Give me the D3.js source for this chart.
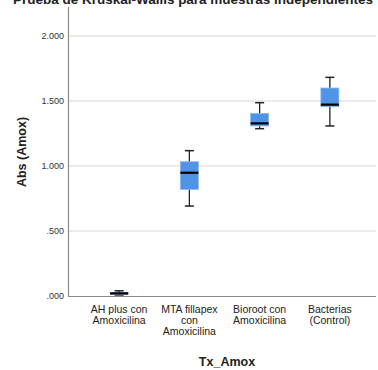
<!DOCTYPE html>
<html><head><meta charset="utf-8">
<script src="https://cdn.jsdelivr.net/npm/d3@7"></script>
<style>body{margin:0;background:#fff;}svg{display:block;}</style>
</head><body>
<svg id="c" width="378" height="370"></svg>
<script>
const categories = [["AH plus con","Amoxicilina"],["MTA fillapex","con","Amoxicilina"],["Bioroot con","Amoxicilina"],["Bacterias","(Control)"]];
const whiskerLow = [0.008, 0.692, 1.287, 1.308];
const q1 = [0.012, 0.820, 1.308, 1.456];
const median = [0.020, 0.948, 1.328, 1.472];
const q3 = [0.028, 1.033, 1.405, 1.600];
const whiskerHigh = [0.040, 1.118, 1.487, 1.682];
const yTicks = [0, 0.5, 1.0, 1.5, 2.0];
const yTickLabels = [".000", ".500", "1.000", "1.500", "2.000"];

const svg = d3.select("#c");
const pLeft = 68, pRight = 376, pTop = 7, pBottom = 296;
const y = d3.scaleLinear().domain([0, 2]).range([pBottom, 36]);
const x = d3.scaleBand().domain(d3.range(categories.length)).range([84, 365]);
const font = "Liberation Sans, Arial, sans-serif";

// gridlines
svg.append("g").selectAll("line").data(yTicks.slice(1)).join("line")
  .attr("x1", pLeft).attr("x2", pRight).attr("y1", d => y(d)).attr("y2", d => y(d))
  .attr("stroke", "#d9d9d9").attr("stroke-width", 1);

// y axis
const ya = svg.append("g").attr("transform", `translate(${pLeft},0)`)
  .call(d3.axisLeft(y).tickValues(yTicks).tickFormat((d,i) => yTickLabels[i]).tickSize(0).tickPadding(4));
ya.select(".domain").remove();
ya.selectAll("text").attr("font-family", font).attr("font-size", 9).attr("fill", "#333");

// x axis
const xa = svg.append("g").attr("transform", `translate(0,${pBottom})`)
  .call(d3.axisBottom(x).tickSize(0).tickFormat(""));
xa.select(".domain").remove();

svg.append("line").attr("x1", pLeft + 0.5).attr("x2", pLeft + 0.5).attr("y1", pTop).attr("y2", pBottom + 0.5)
  .attr("stroke", "#8c8c8c").attr("stroke-width", 1.2);
svg.append("line").attr("x1", pLeft).attr("x2", pRight).attr("y1", pBottom + 0.5).attr("y2", pBottom + 0.5)
  .attr("stroke", "#8c8c8c").attr("stroke-width", 1.2);

// category labels
categories.forEach((lines, i) => {
  const cx = x(i) + x.bandwidth() / 2;
  const t = svg.append("text").attr("text-anchor", "middle").attr("font-family", font)
    .attr("font-size", 10.5).attr("fill", "#222");
  lines.forEach((l, j) => t.append("tspan").attr("x", cx).attr("y", 313 + j * 11).text(l));
});

// boxes
const bw = 18, capw = 9;
const g = svg.append("g");
categories.forEach((c, i) => {
  const cx = x(i) + x.bandwidth() / 2;
  g.append("line").attr("x1", cx).attr("x2", cx).attr("y1", y(whiskerHigh[i])).attr("y2", y(whiskerLow[i]))
    .attr("stroke", "#222").attr("stroke-width", 1.3);
  [whiskerHigh[i], whiskerLow[i]].forEach(v => g.append("line")
    .attr("x1", cx - capw/2).attr("x2", cx + capw/2).attr("y1", y(v)).attr("y2", y(v))
    .attr("stroke", "#222").attr("stroke-width", 1.5));
  g.append("rect").attr("x", cx - bw/2).attr("width", bw)
    .attr("y", y(q3[i])).attr("height", Math.max(1.5, y(q1[i]) - y(q3[i])))
    .attr("fill", "#4f94e6").attr("stroke", "#8fbaf0").attr("stroke-width", 0.8);
  g.append("line").attr("x1", cx - bw/2).attr("x2", cx + bw/2).attr("y1", y(median[i])).attr("y2", y(median[i]))
    .attr("stroke", "#000").attr("stroke-width", 2.2);
});

// titles
svg.append("text").attr("x", 193).attr("y", 4).attr("text-anchor", "middle")
  .attr("font-family", font).attr("font-weight", "bold").attr("font-size", 13.5).attr("fill", "#222")
  .attr("textLength", 360).attr("lengthAdjust", "spacingAndGlyphs")
  .text("Prueba de Kruskal-Wallis para muestras independientes");
svg.append("text").attr("transform", "translate(26,152) rotate(-90)").attr("text-anchor", "middle")
  .attr("font-family", font).attr("font-weight", "bold").attr("font-size", 12.5).attr("fill", "#222")
  .text("Abs (Amox)");
svg.append("text").attr("x", 227).attr("y", 366).attr("text-anchor", "middle")
  .attr("font-family", font).attr("font-weight", "bold").attr("font-size", 12.5).attr("fill", "#222")
  .text("Tx_Amox");
</script>
</body></html>
